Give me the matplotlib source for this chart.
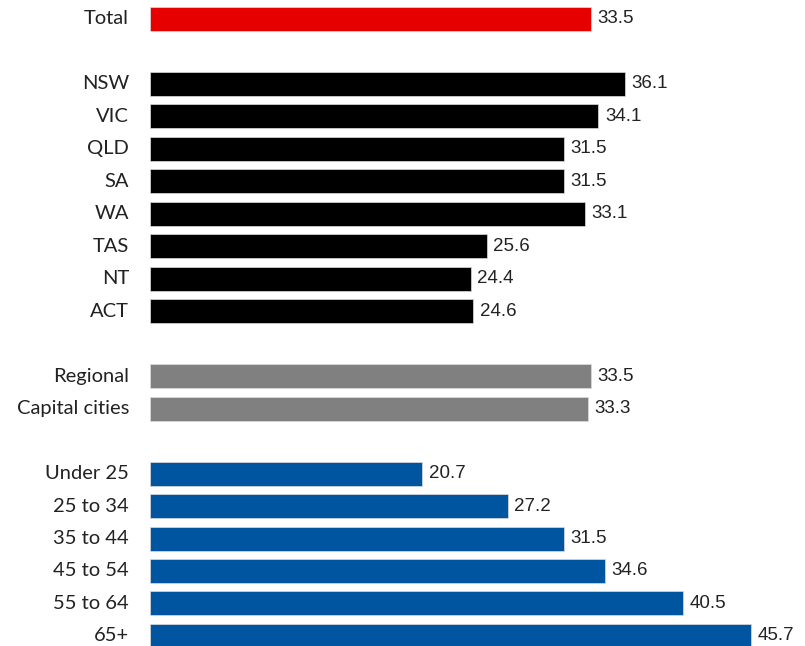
import matplotlib.pyplot as plt

labels = ["Total", "",
          "NSW", "VIC", "QLD", "SA", "WA", "TAS", "NT", "ACT", "",
          "Regional", "Capital cities", "",
          "Under 25", "25 to 34", "35 to 44", "45 to 54", "55 to 64", "65+"]
values = [33.5, None,
          36.1, 34.1, 31.5, 31.5, 33.1, 25.6, 24.4, 24.6, None,
          33.5, 33.3, None,
          20.7, 27.2, 31.5, 34.6, 40.5, 45.7]
groups = ["total", None] + ["state"] * 8 + [None] + ["region"] * 2 + [None] + ["age"] * 6

colours = {"total": "#e60000", "state": "#000000", "region": "#808080", "age": "#0055a0"}

fig = plt.figure(figsize=(8.05, 6.46), dpi=100)
ax = fig.add_axes([150 / 805, 0, 655 / 805, 1])

for i, (lab, v, g) in enumerate(zip(labels, values, groups)):
    if v is None:
        continue
    ax.barh(i, v, height=0.74, color=colours[g], edgecolor="#dddddd", linewidth=0.5)
    ax.text(v + 0.5, i, f"{v:.1f}", va="center", ha="left", fontsize=13.5,
            family="Liberation Sans", color="#222222")
    ax.text(-1.6, i, lab, va="center", ha="right", fontsize=14.5,
            family="Lato", color="#222222")

ax.set_xlim(0, 655 / 13.15)
ax.set_ylim(len(labels) - 1 + 0.31, -0.585)
ax.axis("off")

fig.savefig("out.png", dpi=100)
